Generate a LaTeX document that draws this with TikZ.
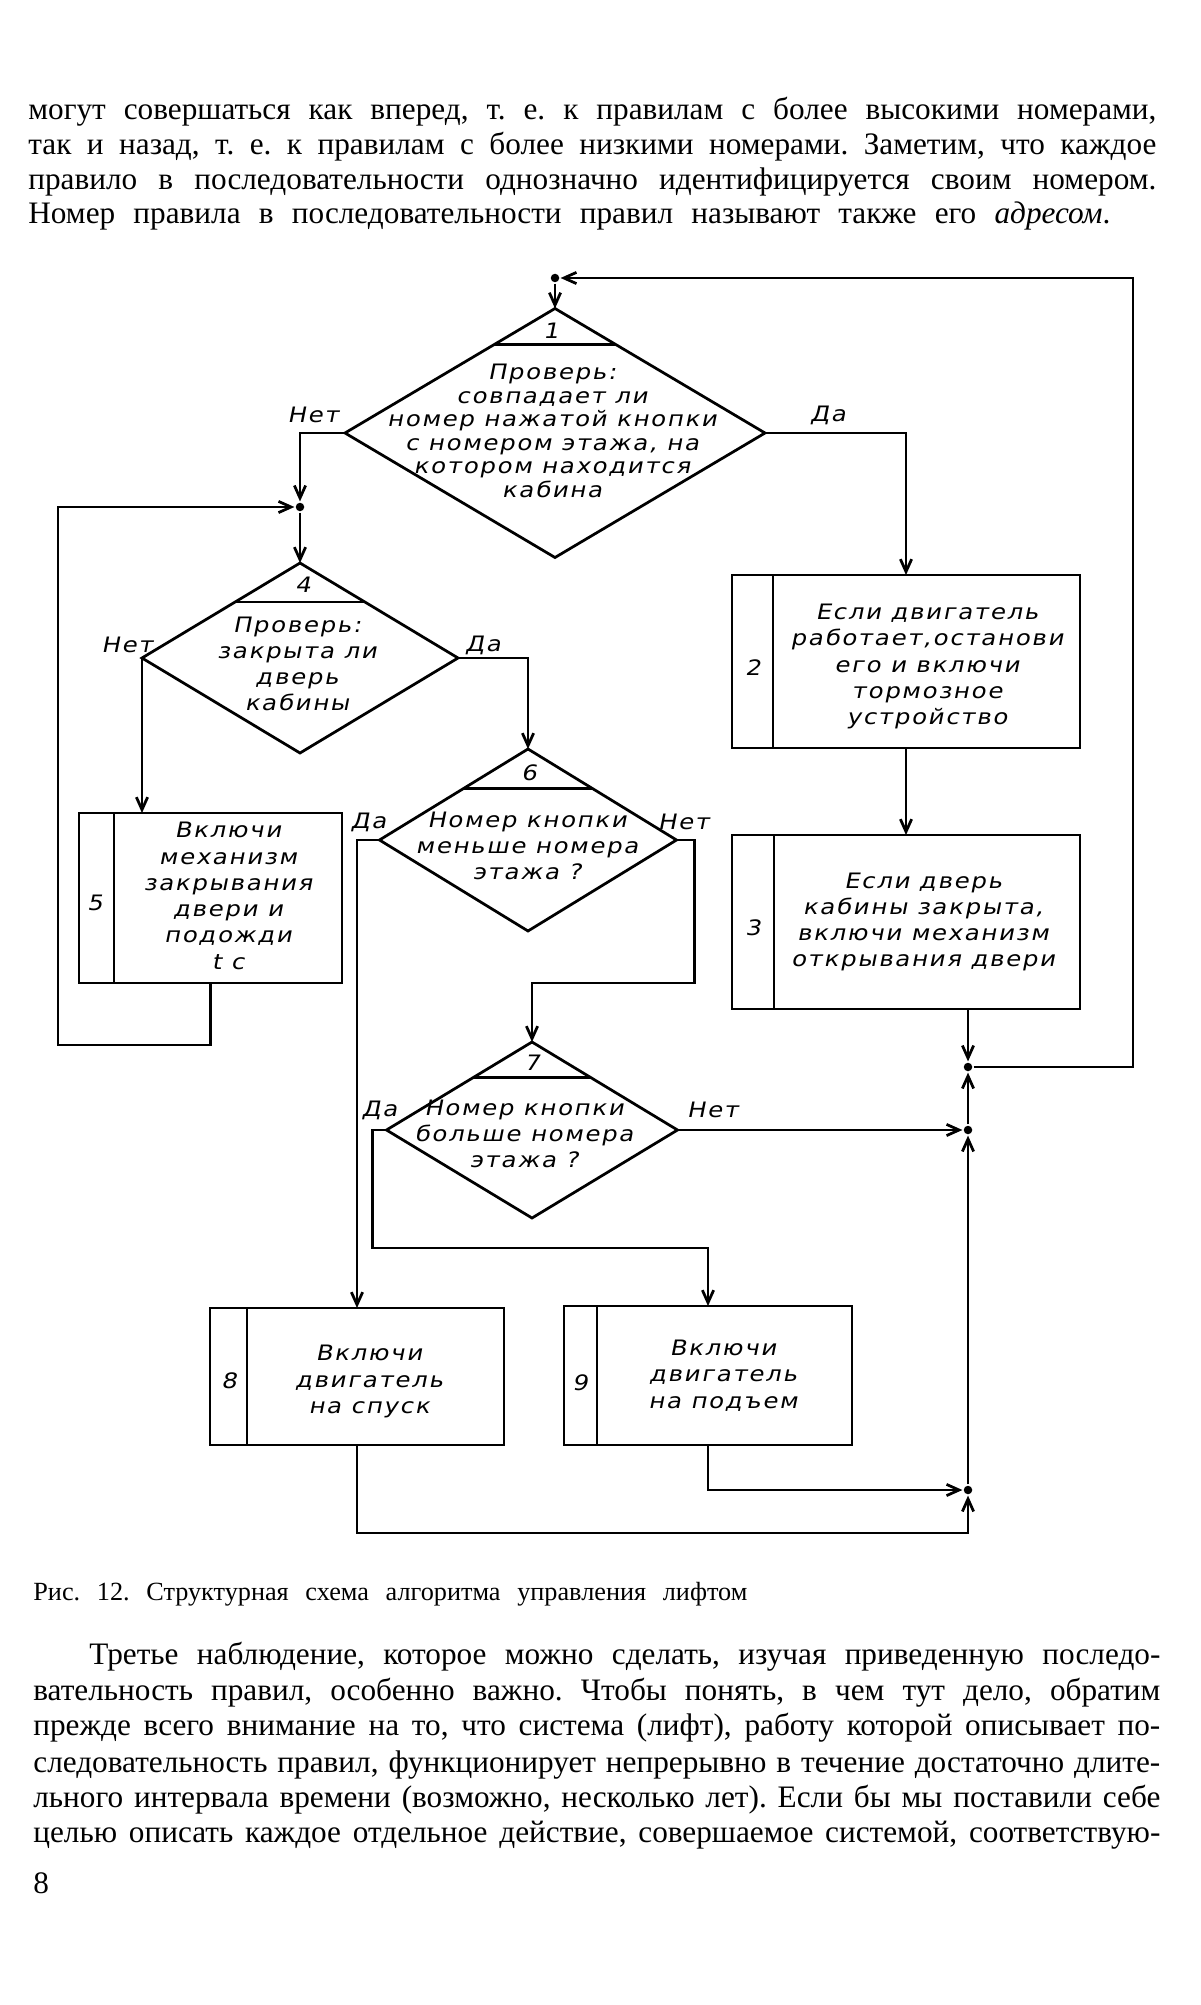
\documentclass[tikz,border=0pt]{standalone}
\usepackage{fontspec}
\setmainfont{Liberation Serif}
\newfontfamily\gost[FakeStretch=1.15,FakeSlant=0.2,LetterSpace=8]{DejaVu Sans}
\usetikzlibrary{calc,positioning,shapes.geometric,arrows.meta}
\frenchspacing

\tikzset{
  ifbox/.style={diamond,draw,inner sep=0pt,outer sep=0pt},
  actbox/.style={rectangle,draw,inner sep=0pt,outer sep=0pt},
  jn/.style={circle,fill,inner sep=0pt,minimum size=3.4pt},
  flow/.style={-{Straight Barb[length=5pt,width=4.5pt]}},
  txt/.style={font=\gost\fontsize{8.5}{10.5}\selectfont,align=center,inner sep=0pt},
  lbl/.style={font=\gost\fontsize{8.5}{10.5}\selectfont,inner sep=0pt},
  bodyln/.style={font=\fontsize{12.5}{14}\selectfont,anchor=base west,inner sep=0pt}
}

\begin{document}
\begin{tikzpicture}[x=0.4pt,y=-0.4pt,line width=1.1pt]
        \fill[white] (0,0) rectangle (1200,2005);
        \useasboundingbox (0,0) rectangle (1200,2005);
        % text above the figure
        \node[bodyln] (p1) at (27,120) {\makebox[451.2pt][s]{могут совершаться как вперед, т. е. к правилам с более высокими номерами,}};
        \node[bodyln] (p2) at (27,155) {\makebox[451.2pt][s]{так и назад, т. е. к правилам с более низкими номерами. Заметим, что каждое}};
        \node[bodyln] (p3) at (27,190) {\makebox[451.2pt][s]{правило в последовательности однозначно идентифицируется своим номером.}};
        \node[bodyln] (p4) at (27,224) {\makebox[432.8pt][s]{Номер правила в последовательности правил называют также его \textit{адресом}.}};

        % conditions
        \node[ifbox,minimum width=168pt,minimum height=99.6pt] (d1) at (555,433) {};
        \node[ifbox,minimum width=126.4pt,minimum height=76pt] (d4) at (300,658) {};
        \node[ifbox,minimum width=118.8pt,minimum height=72.8pt] (d6) at (528,840) {};
        \node[ifbox,minimum width=116.4pt,minimum height=70.4pt] (d7) at (532,1130) {};
        \draw ($(d1.north)!0.29!(d1.west)$) -- ($(d1.north)!0.29!(d1.east)$);
        \draw ($(d4.north)!0.41!(d4.west)$) -- ($(d4.north)!0.41!(d4.east)$);
        \draw ($(d6.north)!0.43!(d6.west)$) -- ($(d6.north)!0.43!(d6.east)$);
        \draw ($(d7.north)!0.40!(d7.west)$) -- ($(d7.north)!0.40!(d7.east)$);
        \node[lbl] (k1) at ($(d1.north)+(-4,22)$) {1};
        \node[lbl] (k4) at ($(d4.north)+(3,22)$) {4};
        \node[lbl] (k6) at ($(d6.north)+(1,24)$) {6};
        \node[lbl] (k7) at ($(d7.north)+(0,21)$) {7};
        \node[txt,font=\gost\fontsize{8.5}{9.4}\selectfont] (q1) at ($(d1.center)+(-3,-2)$)
          {Проверь:\\совпадает ли\\номер нажатой кнопки\\с номером этажа, на\\котором находится\\кабина};
        \node[txt] (q4) at ($(d4.center)+(-3,6)$) {Проверь:\\закрыта ли\\дверь\\кабины};
        \node[txt] (q6) at ($(d6.center)+(-1,6)$) {Номер кнопки\\меньше номера\\этажа ?};
        \node[txt] (q7) at ($(d7.center)+(-8,4)$) {Номер кнопки\\больше номера\\этажа ?};

        % actions
        \node[actbox,minimum width=139.2pt,minimum height=69.2pt] (b2) at (906,661.5) {};
        \node[actbox,minimum width=139.2pt,minimum height=69.6pt] (b3) at (906,922) {};
        \node[actbox,minimum width=105.2pt,minimum height=68pt] (b5) at (210.5,898) {};
        \node[actbox,minimum width=117.6pt,minimum height=54.8pt] (b8) at (357,1376.5) {};
        \node[actbox,minimum width=115.2pt,minimum height=55.6pt] (b9) at (708,1375.5) {};
        \draw ($(b2.north west)+(41,0)$) -- ($(b2.south west)+(41,0)$);
        \draw ($(b3.north west)+(42,0)$) -- ($(b3.south west)+(42,0)$);
        \draw ($(b5.north west)+(35,0)$) -- ($(b5.south west)+(35,0)$);
        \draw ($(b8.north west)+(37,0)$) -- ($(b8.south west)+(37,0)$);
        \draw ($(b9.north west)+(33,0)$) -- ($(b9.south west)+(33,0)$);
        \node[lbl] (k2) at ($(b2.west)+(21,6)$) {2};
        \node[lbl] (k3) at ($(b3.west)+(21,6)$) {3};
        \node[lbl] (k5) at ($(b5.west)+(16,5)$) {5};
        \node[lbl] (k8) at ($(b8.west)+(19,4)$) {8};
        \node[lbl] (k9) at ($(b9.west)+(16,7)$) {9};
        \node[txt] (a2) at ($(b2.center)+(21,5)$) {Если двигатель\\работает,останови\\его и включи\\тормозное\\устройство};
        \node[txt] (a3) at ($(b3.center)+(17,0)$) {Если дверь\\кабины закрыта,\\включи механизм\\открывания двери};
        \node[txt] (a5) at ($(b5.center)+(17.5,-2)$) {Включи\\механизм\\закрывания\\двери и\\подожди\\t с};
        \node[txt] (a8) at ($(b8.center)+(12,5)$) {Включи\\двигатель\\на спуск};
        \node[txt] (a9) at ($(b9.center)+(15,0)$) {Включи\\двигатель\\на подъем};

        % junctions
        \node[jn] (J0) at (555,278) {};
        \node[jn] (J1) at (300,507) {};
        \node[jn] (J2) at (968,1067) {};
        \node[jn] (J3) at (968,1130) {};
        \node[jn] (J5) at (968,1490) {};

        % branch labels
        \node[lbl] (n1) at ($(d1.west)+(-32,-18)$) {Нет};
        \node[lbl] (y1) at ($(d1.east)+(63,-18)$) {Да};
        \node[lbl] (n4) at ($(d4.west)+(-15,-13)$) {Нет};
        \node[lbl] (y4) at ($(d4.east)+(25,-13)$) {Да};
        \node[lbl] (y6) at ($(d6.west)+(-11,-18)$) {Да};
        \node[lbl] (n6) at ($(d6.east)+(7,-18)$) {Нет};
        \node[lbl] (y7) at ($(d7.west)+(-7,-20)$) {Да};
        \node[lbl] (n7) at ($(d7.east)+(35,-20)$) {Нет};

        % connectors
        \draw[flow] (J0) -- (d1.north);
        \draw[flow] (d1.west) -| (J1);
        \draw[flow] (J1) -- (d4.north);
        \draw[flow] (d1.east) -| (b2.north);
        \draw[flow] (b2.south) -- (b3.north);
        \draw[flow] (d4.west) -- (d4.west |- b5.north);
        \draw[flow] (b5.south) -- ++(0,62) -| ($(J1)+(-242,0)$) -- (J1);
        \draw[flow] (d4.east) -| (d6.north);
        \draw[flow] (d6.west) -| (b8.north);
        \draw[flow] (d6.east) -- ++(18,0) |- ($(d7.north)+(0,-59)$) -- (d7.north);
        \draw[flow] (d7.west) -- ++(-14,0) |- ($(b9.north)+(0,-58)$) -- (b9.north);
        \draw[flow] (d7.east) -- (J3);
        \draw[flow] (b3.south -| J2) -- (J2);
        \draw[flow] (J3) -- (J2);
        \draw[flow] (J5) -- (J3);
        \draw[flow] (b9.south) |- (J5);
        \draw[flow] (b8.south) -- ++(0,88) -| (J5);
        \draw[flow] (J2) -| ($(J0)+(578,0)$) -- (J0);

        % caption and text below
        \node[bodyln,font=\fontsize{10.5}{12}\selectfont] (cap) at (32,1600) {\makebox[285.6pt][s]{Рис. 12. Структурная схема алгоритма управления лифтом}};
        \node[bodyln] (r1) at (88,1664) {\makebox[428.4pt][s]{Третье наблюдение, которое можно сделать, изучая приведенную последо-}};
        \node[bodyln] (r2) at (32,1700) {\makebox[450.8pt][s]{вательность правил, особенно важно. Чтобы понять, в чем тут дело, обратим}};
        \node[bodyln] (r3) at (32,1735) {\makebox[450.8pt][s]{прежде всего внимание на то, что система (лифт), работу которой описывает по-}};
        \node[bodyln] (r4) at (32,1772) {\makebox[450.8pt][s]{следовательность правил, функционирует непрерывно в течение достаточно длите-}};
        \node[bodyln] (r5) at (32,1807) {\makebox[450.8pt][s]{льного интервала времени (возможно, несколько лет). Если бы мы поставили себе}};
        \node[bodyln] (r6) at (32,1842) {\makebox[450.8pt][s]{целью описать каждое отдельное действие, совершаемое системой, соответствую-}};
        \node[bodyln] (pg) at (32,1893) {8};
      \end{tikzpicture}
\end{document}
